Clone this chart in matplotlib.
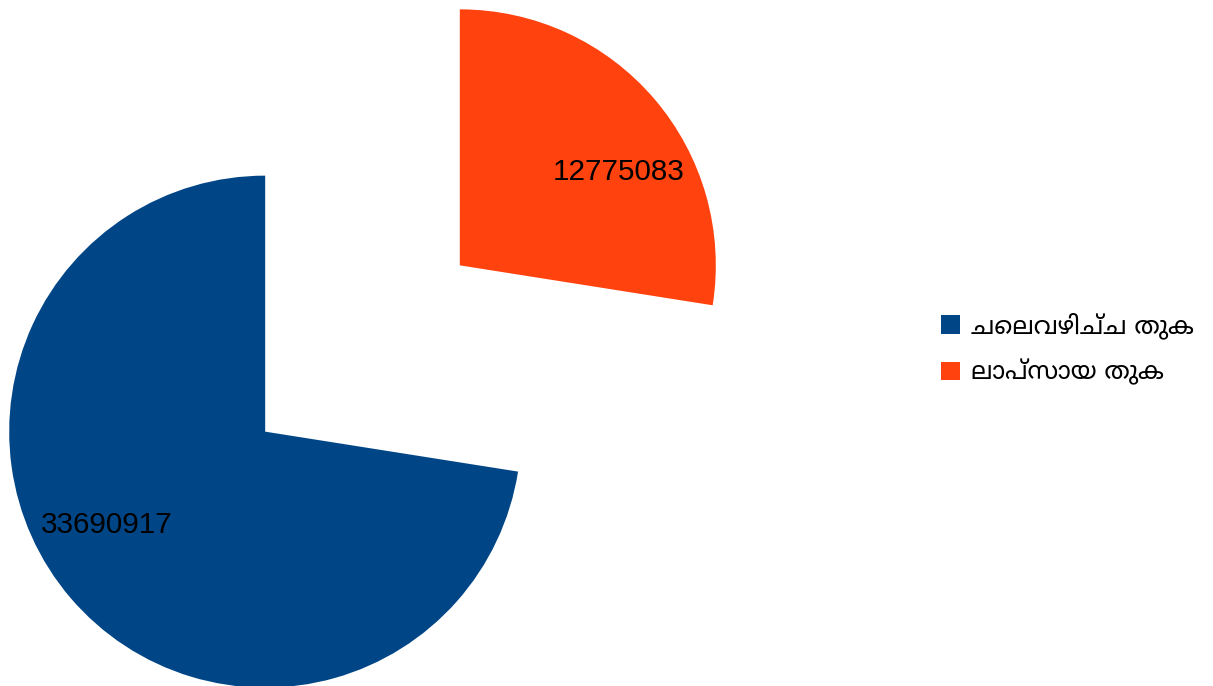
import numpy as np
import matplotlib
matplotlib.use('Agg')
import matplotlib.pyplot as plt
from matplotlib.patches import Patch

# തുകകൾ
labels = ['ചെലവഴിച്ച തുക', 'ലാപ്സായ തുക']
values = [33690917, 12775083]
colors = ['#004586', '#ff420e']

W, H = 1213, 686
fig = plt.figure(figsize=(W / 100, H / 100), dpi=100)
ax = fig.add_axes([0, 0, 1, 1])

R = 256
cx, cy = 362.5, 337.5
wedges, _ = ax.pie(values, colors=colors, radius=R, center=(cx, cy),
                   startangle=90, counterclock=True,
                   explode=[0.5 * R, 0.5 * R],
                   wedgeprops=dict(linewidth=0))

# value labels
for w, v in zip(wedges, values):
    a = np.deg2rad((w.theta1 + w.theta2) / 2 - 10)
    x = w.center[0] + 0.72 * R * np.cos(a)
    y = w.center[1] + 0.72 * R * np.sin(a)
    ax.text(x, y, str(v), ha='center', va='center', fontsize=21.3,
            family=['Liberation Sans', 'DejaVu Sans'], color='black')

ax.set_xlim(0, W)
ax.set_ylim(0, H)
ax.set_aspect('equal')
ax.axis('off')

handles = [Patch(facecolor=c, edgecolor='none') for c in colors]
ax.legend(handles, labels, loc='center left', bbox_to_anchor=(931 / W, 1 - 349 / H),
          frameon=False, handlelength=0.76, handleheight=0.76,
          handletextpad=0.45, labelspacing=0.8, borderaxespad=0,
          prop=dict(family=['Noto Sans Malayalam', 'Liberation Sans', 'DejaVu Sans'], size=18))

fig.savefig('out.png', dpi=100)
